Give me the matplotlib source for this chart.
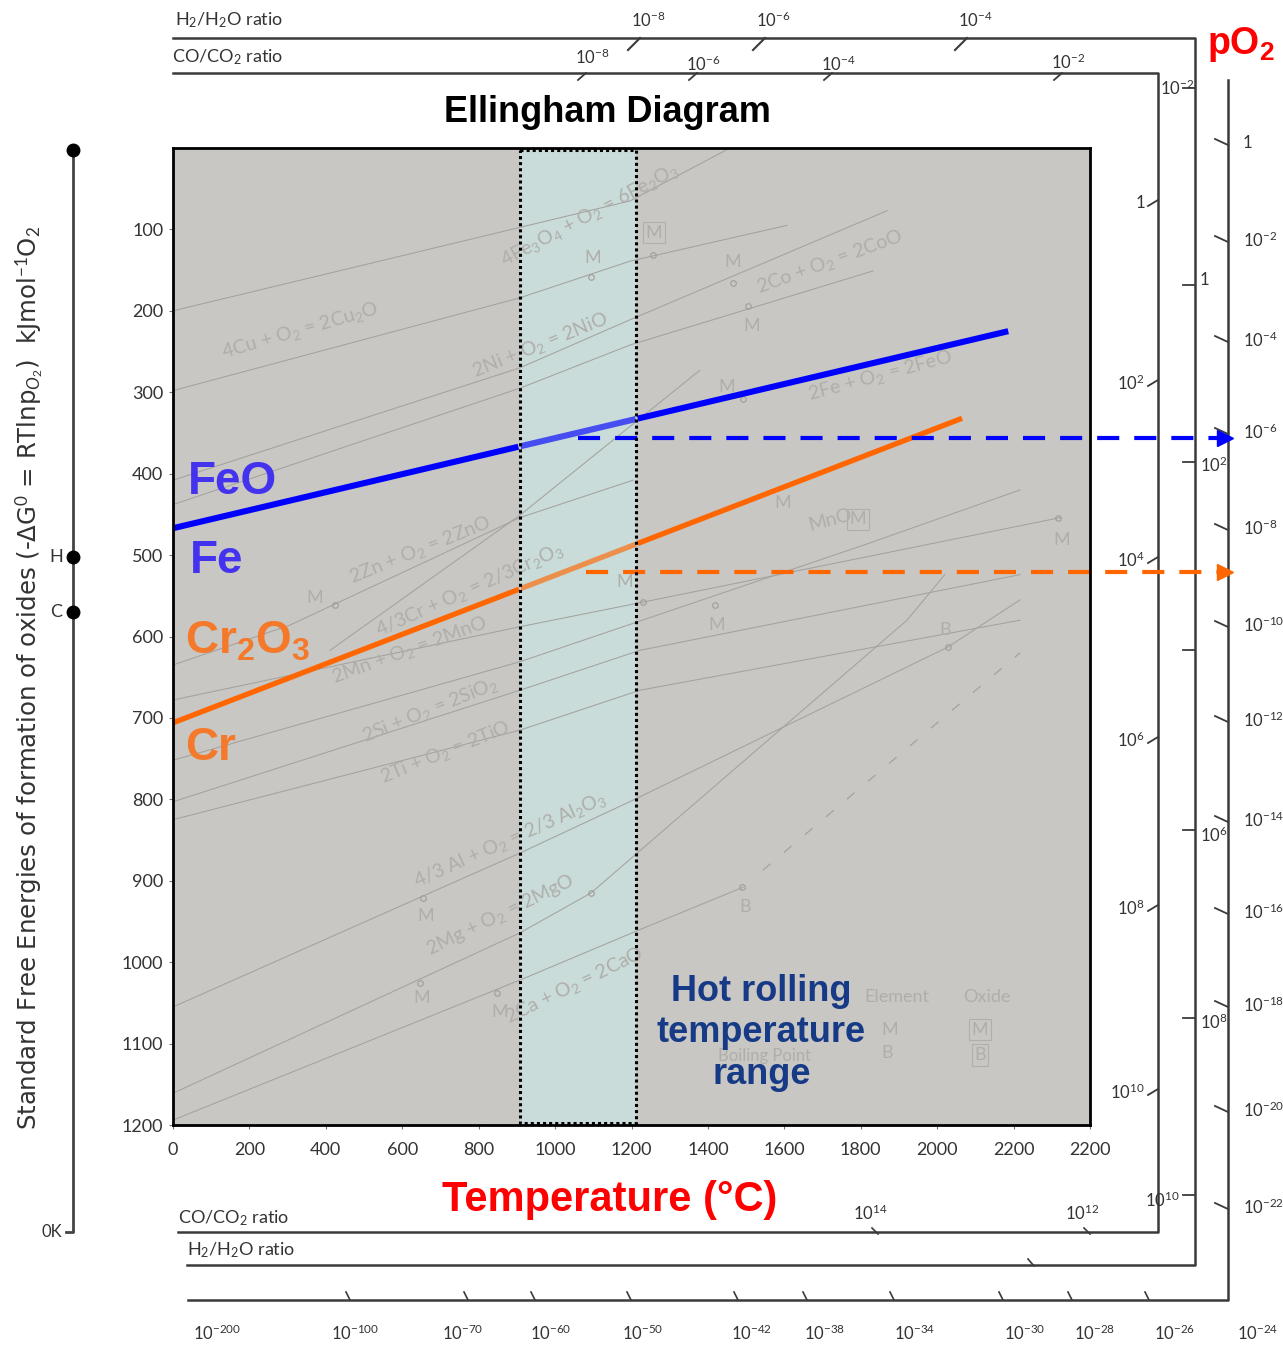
import matplotlib
matplotlib.use('Agg')
import matplotlib.pyplot as plt
import numpy as np
from matplotlib import font_manager
from matplotlib.patches import Rectangle

# ---------------- data ----------------
temp_ticks = [0, 200, 400, 600, 800, 1000, 1200, 1400, 1600, 1800, 2000, 2200, 2400]
temp_tick_labels = ['0', '200', '400', '600', '800', '1000', '1200', '1400', '1600',
                    '1800', '2000', '2200', '2200']
dg_ticks = [100, 200, 300, 400, 500, 600, 700, 800, 900, 1000, 1100, 1200]

# highlighted oxide lines (T in degC, -dG in kJ/mol O2)
feo_T = [0, 2186]
feo_G = [467, 225]
cr2o3_T = [0, 2065]
cr2o3_G = [706, 332]

hot_rolling_T = [908, 1212]
feo_equil_G = 356
cr_equil_G = 521
equil_T_start = 1060
equil_T_end = 2735

# faint background reactions
fe2o3_T = [0, 1196, 1458];            fe2o3_G = [200, 65, 0]
cu2o_T = [0, 908, 1196, 1607];        cu2o_G = [298, 184, 139, 95]
nio_T = [0, 908, 1196, 1869];         nio_G = [408, 270, 211, 77]
coo_T = [0, 908, 1196, 1832];         coo_G = [438, 295, 242, 151]
co2_T = [411, 908, 1159, 1379];       co2_G = [617, 451, 356, 273]
zno_T = [0, 306, 908, 1204];          zno_G = [635, 586, 454, 408]
mno_T = [0, 908, 1196, 2322];         mno_G = [678, 588, 561, 454]
cr_T = [0, 908, 1806, 2217];          cr_G = [752, 631, 488, 420]
sio2_T = [0, 908, 1222, 2217];        sio2_G = [803, 666, 617, 524]
tio_T = [0, 908, 1222, 2217];         tio_G = [825, 715, 666, 580]
al2o3_T = [0, 908, 1204, 2028, 2217]; al2o3_G = [1055, 866, 801, 613, 555]
mgo_T = [0, 908, 1094, 1921, 2020];   mgo_G = [1161, 964, 915, 580, 524]
cao_T = [0, 908, 1222, 1492];         cao_G = [1194, 1022, 960, 908]
cao_gas_T = [1544, 2217];             cao_gas_G = [887, 620]

point_T = [1256, 1094, 1466, 1505, 1492, 424, 1230, 1419, 2316, 2028, 1489, 654, 646, 848, 1094]
point_G = [131, 158, 166, 194, 308, 561, 558, 561, 454, 613, 908, 921, 1026, 1038, 915]

# nomographic scale labels
h2_top_labels = ['10$^{-8}$', '10$^{-6}$', '10$^{-4}$']
co_top_labels = ['10$^{-8}$', '10$^{-6}$', '10$^{-4}$', '10$^{-2}$']
co_right_labels = ['1', '10$^{2}$', '10$^{4}$', '10$^{6}$', '10$^{8}$', '10$^{10}$']
h2_right_labels = ['1', '10$^{2}$', '10$^{6}$', '10$^{8}$']
po2_right_labels = ['1', '10$^{-2}$', '10$^{-4}$', '10$^{-6}$', '10$^{-8}$', '10$^{-10}$',
                    '10$^{-12}$', '10$^{-14}$', '10$^{-16}$', '10$^{-18}$', '10$^{-20}$', '10$^{-22}$']
co_bottom_labels = ['10$^{14}$', '10$^{12}$']
po2_bottom_labels = ['10$^{-200}$', '10$^{-100}$', '10$^{-70}$', '10$^{-60}$', '10$^{-50}$', '10$^{-42}$',
                     '10$^{-38}$', '10$^{-34}$', '10$^{-30}$', '10$^{-28}$', '10$^{-26}$', '10$^{-24}$']

# ---------------- style ----------------
names = {f.name for f in font_manager.fontManager.ttflist}
narrow = 'Liberation Sans Narrow' if 'Liberation Sans Narrow' in names else 'DejaVu Sans'
plt.rcParams['mathtext.fontset'] = 'custom'
plt.rcParams['mathtext.rm'] = 'Lato'
plt.rcParams['mathtext.it'] = 'Lato:italic'
plt.rcParams['mathtext.bf'] = 'Liberation Sans:bold'
plt.rcParams['font.family'] = ['Lato', 'DejaVu Sans']

W, H = 1283, 1346
fig = plt.figure(figsize=(W / 100, H / 100), dpi=100)
fig.patch.set_facecolor('white')

ov = fig.add_axes([0, 0, 1, 1], zorder=1)
ov.set_xlim(0, W)
ov.set_ylim(H, 0)
ov.axis('off')
ov.patch.set_alpha(0)

ax = fig.add_axes([173 / W, 1 - 1125 / H, 917 / W, 977 / H], zorder=2)
ax.set_xlim(0, 2400)
ax.set_ylim(1200, 0)
ax.set_facecolor('#c8c7c3')
for s in ax.spines.values():
    s.set_linewidth(2)
    s.set_color('black')
ax.set_xticks(temp_ticks)
ax.set_xticklabels(temp_tick_labels)
ax.set_yticks(dg_ticks)
ax.set_yticklabels([str(v) for v in dg_ticks])
ax.tick_params(axis='x', labelsize=13, labelcolor='#333333', length=3, pad=9, color='#777777')
ax.tick_params(axis='y', labelsize=13, labelcolor='#333333', length=3, pad=4, color='#777777')

# hot rolling band (below the lines)
ax.axvspan(hot_rolling_T[0], hot_rolling_T[1], color='#c9dcd9', lw=0, zorder=0.5)

faint = '#a3a29e'
for T, G in [(fe2o3_T, fe2o3_G), (cu2o_T, cu2o_G), (nio_T, nio_G), (coo_T, coo_G),
             (co2_T, co2_G), (zno_T, zno_G), (mno_T, mno_G), (cr_T, cr_G),
             (sio2_T, sio2_G), (tio_T, tio_G), (al2o3_T, al2o3_G), (mgo_T, mgo_G),
             (cao_T, cao_G)]:
    ax.plot(T, G, color=faint, lw=0.75, zorder=1)
ax.plot(cao_gas_T, cao_gas_G, color=faint, lw=0.9, ls=(0, (8, 14)), zorder=1)
ax.plot(point_T, point_G, 'o', ms=4, mfc='none', mec='#9e9d99', mew=0.8, zorder=1)

ftxt = dict(color='#afaeaa', fontsize=14, ha='center', va='center', rotation_mode='anchor', zorder=1)
for s, T, G, r in [('4Cu + O$_2$ = 2Cu$_2$O', 332, 224, 16),
                   ('2Ni + O$_2$ = 2NiO', 961, 242, 22),
                   ('4Fe$_3$O$_4$ + O$_2$ = 6Fe$_2$O$_3$', 1091, 82, 28),
                   ('2Co + O$_2$ = 2CoO', 1720, 140, 20),
                   ('2Fe + O$_2$ = 2FeO', 1850, 279, 15),
                   ('2Zn + O$_2$ = 2ZnO', 646, 494, 22),
                   ('4/3Cr + O$_2$ = 2/3Cr$_2$O$_3$', 777, 543, 24),
                   ('2Mn + O$_2$ = 2MnO', 620, 617, 20),
                   ('2Si + O$_2$ = 2SiO$_2$', 673, 690, 22),
                   ('2Ti + O$_2$ = 2TiO', 712, 742, 22),
                   ('4/3 Al + O$_2$ = 2/3 Al$_2$O$_3$', 882, 850, 24),
                   ('2Mg + O$_2$ = 2MgO', 856, 942, 26),
                   ('2Ca + O$_2$ = 2CaO', 1052, 1028, 26),
                   ('MnO', 1720, 457, 15)]:
    ax.text(T, G, s, rotation=r, **ftxt)
for s, T, G in [('M', 1099, 135), ('M', 1466, 140), ('M', 1515, 219), ('M', 1450, 294),
                ('M', 372, 553), ('M', 1597, 436), ('M', 1424, 586), ('M', 1183, 533),
                ('M', 2327, 481), ('B', 2020, 592), ('B', 1497, 932), ('M', 662, 943),
                ('M', 652, 1044), ('M', 856, 1061), ('M', 1877, 1083), ('B', 1869, 1112),
                ('Element', 1895, 1043), ('Oxide', 2130, 1043)]:
    ax.text(T, G, s, color='#afaeaa', fontsize=13, ha='center', va='center', zorder=1)
ax.text(1549, 1115, 'Boiling Point', color='#afaeaa', fontsize=12, ha='center', va='center', zorder=1)
for s, T, G in [('M', 1259, 104), ('M', 2112, 1083), ('B', 2112, 1114), ('M', 1792, 456)]:
    ax.text(T, G, s, color='#afaeaa', fontsize=13, ha='center', va='center', zorder=1,
            bbox=dict(boxstyle='square,pad=0.15', fc='none', ec='#b0afab', lw=0.8))


def draw_split(T, G, color, lw):
    """Draw a line solid outside the band and faded inside it."""
    t = np.linspace(T[0], T[-1], 400)
    g = np.interp(t, T, G)
    inside = (t >= hot_rolling_T[0]) & (t <= hot_rolling_T[1])
    left = t <= hot_rolling_T[0]
    right = t >= hot_rolling_T[1]
    ax.plot(t[left], g[left], color=color, lw=lw, solid_capstyle='butt', zorder=2)
    ax.plot(t[right], g[right], color=color, lw=lw, solid_capstyle='butt', zorder=2)
    ax.plot(t[inside], g[inside], color=color, lw=lw, alpha=0.65, solid_capstyle='butt', zorder=2)


draw_split(feo_T, feo_G, '#0000ff', 4.4)
draw_split(cr2o3_T, cr2o3_G, '#ff6600', 3.8)

# equilibrium dashed arrows
ax.plot([equil_T_start, equil_T_end], [feo_equil_G, feo_equil_G], color='#0000ff', lw=3,
        ls=(0, (5.3, 3.6)), clip_on=False, zorder=2)
ax.plot([equil_T_end + 18], [feo_equil_G], marker='>', ms=12, color='#0000ff', clip_on=False, zorder=2)
ax.plot([equil_T_start + 20, equil_T_end], [cr_equil_G, cr_equil_G], color='#ff6600', lw=3,
        ls=(0, (5.3, 3.6)), clip_on=False, zorder=2)
ax.plot([equil_T_end + 18], [cr_equil_G], marker='>', ms=12, color='#ff6600', clip_on=False, zorder=2)

ax.add_patch(Rectangle((hot_rolling_T[0], 3), hot_rolling_T[1] - hot_rolling_T[0], 1194,
                       fill=False, ec='black', lw=2.2, ls=(0, (1, 1)), zorder=6))

# big labels
bold = dict(family=['Liberation Sans', 'DejaVu Sans'], fontweight='bold', zorder=7)
ax.text(40, 410, 'FeO', color='#4433ee', fontsize=33, ha='left', va='center', **bold)
ax.text(45, 507, 'Fe', color='#4433ee', fontsize=33, ha='left', va='center', **bold)
ax.text(32, 606, r'Cr$_{\mathbf{2}}$O$_{\mathbf{3}}$', color='#f5792a', fontsize=33,
        ha='left', va='center', **bold)
ax.text(32, 737, 'Cr', color='#f5792a', fontsize=33, ha='left', va='center', **bold)
ax.text(1540, 1087, 'Hot rolling\ntemperature\nrange', color='#163a86', fontsize=26,
        ha='center', va='center', linespacing=1.25, **bold)

# title & axis titles
ov.text(607, 112, 'Ellingham Diagram', fontsize=26, ha='center', va='center',
        family=['Liberation Sans', 'DejaVu Sans'], fontweight='bold', color='black')
ov.text(610, 1200, 'Temperature (°C)', fontsize=30, ha='center', va='center',
        family=['Liberation Sans', 'DejaVu Sans'], fontweight='bold', color='#ff0000', zorder=5,
        bbox=dict(boxstyle='square,pad=0.12', fc='white', ec='none'))
ov.text(1207, 45, 'pO$_{\\mathbf{2}}$', fontsize=27, ha='left', va='center',
        family=['Liberation Sans', 'DejaVu Sans'], fontweight='bold', color='#ff0000')

ylab = ov.text(30, 678, 'Standard Free Energies of formation of oxides (-ΔG$^0$ = RTlnp$_{O_2}$)  kJmol$^{-1}$O$_2$',
               rotation=90, ha='center', va='center', fontsize=20, color='#333333',
               family=[narrow, 'DejaVu Sans'])

# ---- frame scales (pixel units) ----
lc = '#3a3a3a'
lab = dict(fontsize=13, color='#333333', va='center')
small = dict(fontsize=12, color='#333333', va='center')

ov.plot([173, 1195, 1195, 187], [38, 38, 1265, 1265], color=lc, lw=1.8)
ov.plot([173, 1158, 1158, 178], [73, 73, 1232, 1232], color=lc, lw=1.8)
ov.plot([1228, 1228, 188], [80, 1300, 1300], color=lc, lw=1.8)

ov.text(175, 20, 'H$_2$/H$_2$O ratio', ha='left', **lab)
ov.text(172, 57, 'CO/CO$_2$ ratio', ha='left', **lab)
ov.text(178, 1218, 'CO/CO$_2$ ratio', ha='left', **lab)
ov.text(187, 1250, 'H$_2$/H$_2$O ratio', ha='left', **lab)

for s, x in zip(h2_top_labels, [648, 773, 975]):
    ov.text(x, 20, s, ha='center', **small)
    ov.plot([x - 20, x - 8], [50, 38], color=lc, lw=1.5)
for s, x, y in zip(co_top_labels, [592, 703, 838, 1068], [57, 64, 64, 62]):
    ov.text(x, y, s, ha='center', **small)
    ov.plot([x - 14, x - 6], [80, 73], color=lc, lw=1.3)
ov.text(1160, 88, '10$^{-2}$', ha='left', **small)

for s, y in zip(co_right_labels, [203, 383, 560, 740, 908, 1092]):
    ov.text(1145, y, s, ha='right', **small)
    ov.plot([1148, 1158], [y + 3, y - 3], color=lc, lw=1.3)
for y in [88, 285, 462, 650, 830, 1018, 1195]:
    ov.plot([1183, 1195], [y, y], color=lc, lw=1.3)
for s, y in zip(h2_right_labels, [280, 465, 835, 1022]):
    ov.text(1200, y, s, ha='left', **small)
ov.text(1162, 1200, '10$^{10}$', ha='center', **small)

for s, y in zip(po2_right_labels, [143, 240, 340, 432, 528, 625, 720, 820, 912, 1005, 1110, 1207]):
    ov.text(1243, y, s, ha='left', **small)
    ov.plot([1215, 1228], [y - 4, y + 2], color=lc, lw=1.3)

for s, x in zip(co_bottom_labels, [870, 1082]):
    ov.text(x, 1213, s, ha='center', **small)
    ov.plot([x + 2, x + 8], [1228, 1234], color=lc, lw=1.2)
ov.plot([1028, 1034], [1259, 1266], color=lc, lw=1.2)

for s, x in zip(po2_bottom_labels, [217, 355, 463, 551, 643, 752, 825, 915, 1025, 1095, 1175, 1258]):
    ov.text(x, 1333, s, ha='center', **small)
for x in [348, 466, 533, 629, 736, 805, 892, 1001, 1070, 1147]:
    ov.plot([x - 2, x + 2], [1292, 1300], color=lc, lw=1.2)

# left scale
ov.plot([73, 73, 66], [150, 1232, 1232], color='#444444', lw=2)
ov.plot([73, 73, 73], [150, 557, 612], 'o', ms=9, color='black')
ov.text(56, 557, 'H', ha='center', **lab)
ov.text(56, 612, 'C', ha='center', **lab)
ov.text(52, 1232, '0K', ha='center', **small)

fig.canvas.draw()
bb = ylab.get_window_extent()
ylab.set_fontsize(20 * 905 / bb.height)

fig.savefig('out.png', dpi=100)
